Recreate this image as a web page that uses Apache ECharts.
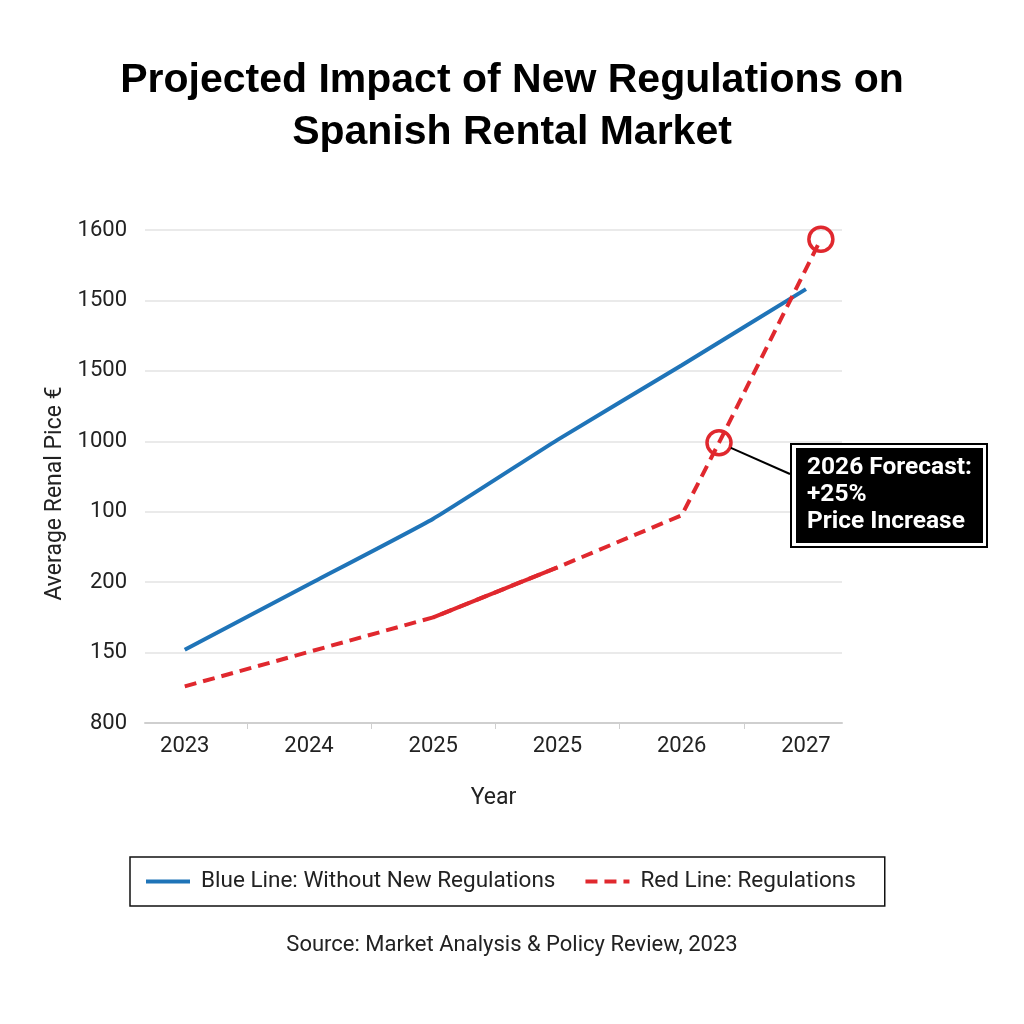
<!DOCTYPE html>
<html>
<head>
<meta charset="utf-8">
<title>Projected Impact of New Regulations on Spanish Rental Market</title>
<script src="https://cdn.jsdelivr.net/npm/echarts@6/dist/echarts.min.js"></script>
<style>
html, body { margin: 0; padding: 0; background: #fff; }
#chartDiv { width: 1024px; height: 1024px; }
</style>
</head>
<body>
<div id="chartDiv"></div>
<script>
// 数据 (y values are positions on the labelled scale)
var years = ['2023', '2024', '2025', '2025', '2026', '2027'];
var yLabels = ['800', '150', '200', '100', '1000', '1500', '1500', '1600'];
var blueLine = [[0, 1.04], [1, 1.97], [2, 2.9], [3, 4.02], [4, 5.08], [5, 6.16]];
var redLine = [[0, 0.52], [1, 1.01], [2, 1.5], [3, 2.21], [4, 2.95], [4.3, 3.98], [5.12, 6.87]];
var redSolid = [[2, 1.5], [3, 2.21]];
var forecastPoints = [[4.3, 3.98], [5.12, 6.87]];
var blueName = 'Blue Line: Without New Regulations';
var redName = 'Red Line: Regulations';

var BLUE = '#1f74b8';
var RED = '#e0282e';
var DASH = [12, 7];

var chartDiv = echarts.init(document.getElementById('chartDiv'));

var option = {
    animation: false,
    backgroundColor: '#fff',
    textStyle: { fontFamily: 'Roboto' },
    title: [
        {
            text: 'Projected Impact of New Regulations on\nSpanish Rental Market',
            left: 'center',
            top: 50,
            textStyle: {
                fontFamily: 'Liberation Sans',
                fontSize: 41,
                fontWeight: 'bold',
                color: '#000',
                lineHeight: 52
            }
        },
        {
            text: 'Source: Market Analysis & Policy Review, 2023',
            left: 'center',
            top: 929,
            textStyle: { fontFamily: 'Roboto', fontSize: 22, fontWeight: 'normal', color: '#222' }
        }
    ],
    legend: {
        left: 130,
        top: 857,
        data: [
            { name: blueName, lineStyle: { width: 4, color: BLUE } },
            { name: redName, lineStyle: { width: 4, color: RED, type: DASH } }
        ],
        itemWidth: 44,
        itemHeight: 14,
        itemGap: 28,
        itemStyle: { opacity: 0 },
        borderColor: '#111',
        borderWidth: 1.5,
        padding: [13, 29, 13, 14],
        textStyle: { fontSize: 22.5, color: '#222', padding: [0, 0, 0, 6] }
    },
    grid: { left: 145, right: 182, top: 230, bottom: 301 },
    xAxis: {
        type: 'value',
        min: -0.32,
        max: 5.29,
        name: 'Year',
        nameLocation: 'middle',
        nameGap: 64,
        nameTextStyle: { fontSize: 23, color: '#222' },
        axisLine: { show: true, lineStyle: { color: '#cfcfcf', width: 2 } },
        axisTick: { show: true, customValues: [0.5, 1.5, 2.5, 3.5, 4.5], length: 6, lineStyle: { color: '#cfcfcf' } },
        axisLabel: {
            customValues: [0, 1, 2, 3, 4, 5],
            formatter: function (v) { return years[Math.round(v)]; },
            fontSize: 22,
            color: '#222',
            margin: 12
        },
        splitLine: { show: false }
    },
    yAxis: {
        type: 'value',
        min: 0,
        max: 7,
        interval: 1,
        name: 'Average Renal Pice €',
        nameLocation: 'middle',
        nameGap: 78,
        nameTextStyle: { fontSize: 23, color: '#222', padding: [0, 34, 0, 0] },
        axisLine: { show: false },
        axisTick: { show: false },
        axisLabel: {
            formatter: function (v) { return yLabels[v]; },
            fontSize: 22,
            color: '#222',
            margin: 18
        },
        splitLine: { lineStyle: { color: '#e3e3e3', width: 1.5 } }
    },
    series: [
        {
            name: blueName,
            type: 'line',
            data: blueLine,
            symbol: 'none',
            smooth: 0.15,
            lineStyle: { color: BLUE, width: 4 },
            itemStyle: { color: BLUE }
        },
        {
            name: redName,
            type: 'line',
            data: redLine,
            symbol: 'none',
            lineStyle: { color: RED, width: 4, type: DASH },
            itemStyle: { color: RED }
        },
        {
            name: 'redSolid',
            type: 'line',
            data: redSolid,
            symbol: 'none',
            smooth: 0.3,
            lineStyle: { color: RED, width: 4 }
        },
        {
            name: 'forecast',
            type: 'scatter',
            data: forecastPoints,
            symbol: 'circle',
            symbolSize: 24,
            z: 5,
            itemStyle: { color: 'rgba(255,255,255,0)', borderColor: RED, borderWidth: 3.5, opacity: 1 }
        }
    ]
};
chartDiv.setOption(option);

// 注释框 (annotation box, connector anchored on the forecast point)
var p = chartDiv.convertToPixel({ gridIndex: 0 }, forecastPoints[0]);
var boxX = 790, boxY = 443;
var endX = boxX, endY = boxY + 31;
var dx = endX - p[0], dy = endY - p[1];
var len = Math.sqrt(dx * dx + dy * dy);
var r = 13;
chartDiv.setOption({
    graphic: [
        {
            type: 'line',
            shape: { x1: p[0] + dx / len * r, y1: p[1] + dy / len * r, x2: endX, y2: endY },
            style: { stroke: '#000', lineWidth: 2 },
            z: 10
        },
        {
            type: 'group',
            left: boxX,
            top: boxY,
            z: 10,
            children: [
                { type: 'rect', shape: { x: 0, y: 0, width: 196, height: 103 }, style: { fill: '#fff', stroke: '#000', lineWidth: 2 } },
                { type: 'rect', shape: { x: 5, y: 4, width: 187, height: 95 }, style: { fill: '#000' } },
                {
                    type: 'text',
                    x: 16,
                    y: 10,
                    style: {
                        text: '2026 Forecast:\n+25%\nPrice Increase',
                        fill: '#fff',
                        font: 'bold 24.5px Roboto',
                        lineHeight: 27
                    }
                }
            ]
        }
    ]
});
</script>
</body>
</html>
